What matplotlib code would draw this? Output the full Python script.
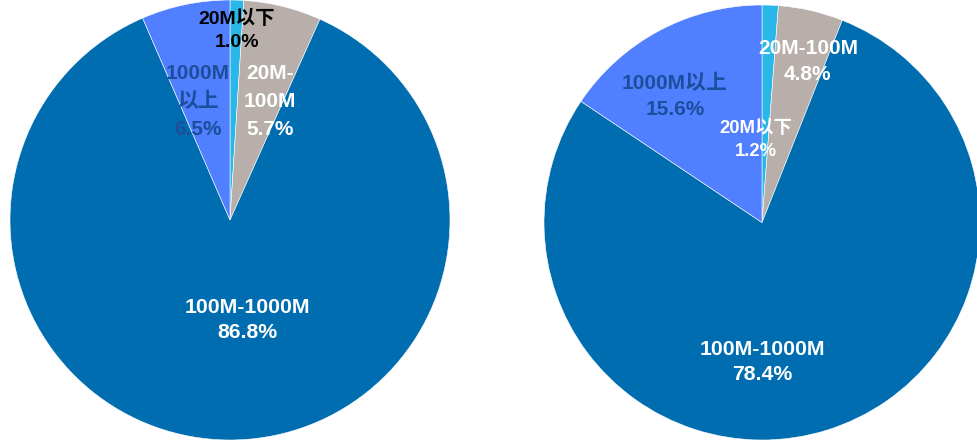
import matplotlib.pyplot as plt

plt.rcParams['font.family'] = ['Liberation Sans', 'Noto Sans CJK SC', 'DejaVu Sans']

categories = ['20M以下', '20M-100M', '100M-1000M', '1000M以上']
share_left = [1.0, 5.7, 86.8, 6.5]
share_right = [1.2, 4.8, 78.4, 15.6]

colors = ['#29B6E8', '#B8AFAB', '#006DB0', '#507FFF']

# label text as it is broken over lines in each pie
names_left = ['20M以下', '20M-\n100M', '100M-1000M', '1000M\n以上']
names_right = ['20M以下', '20M-100M', '100M-1000M', '1000M以上']

# label centres (pie units), text colours, sizes and line spacing
pos_left = [(0.03, 0.86), (0.18, 0.54), (0.08, -0.455), (-0.145, 0.54)]
pos_right = [(-0.03, 0.38), (0.21, 0.74), (0.0, -0.64), (-0.40, 0.58)]
txt_left = ['black', 'white', 'white', '#1D4E9C']
txt_right = ['white', 'white', 'white', '#1D4E9C']
size_left = [14, 15, 15.3, 15]
size_right = [13.3, 15, 15.3, 15]
gap_left = [1.45, 1.6, 1.38, 1.6]
gap_right = [1.5, 1.45, 1.38, 1.5]

W, H = 977, 442
fig = plt.figure(figsize=(W / 100, H / 100), dpi=100)


def draw_pie(box, values, names, pos, tcol, tsize, gaps):
    l, t, w, h = box
    ax = fig.add_axes([l / W, 1 - (t + h) / H, w / W, h / H])
    ax.pie(values, colors=colors, startangle=90, counterclock=False,
           radius=1, wedgeprops=dict(edgecolor='white', linewidth=0.4))
    for v, n, (x, y), c, s, g in zip(values, names, pos, tcol, tsize, gaps):
        ax.text(x, y, f'{n}\n{v:.1f}%', ha='center', va='center',
                color=c, fontsize=s, fontweight='bold', linespacing=g)
    ax.set_xlim(-1, 1)
    ax.set_ylim(-1, 1)
    ax.set_aspect('auto')
    ax.axis('off')


draw_pie((10, 0, 440, 440), share_left, names_left, pos_left, txt_left, size_left, gap_left)
draw_pie((544, 5, 436, 435), share_right, names_right, pos_right, txt_right, size_right, gap_right)

fig.savefig('out.png', dpi=100)
